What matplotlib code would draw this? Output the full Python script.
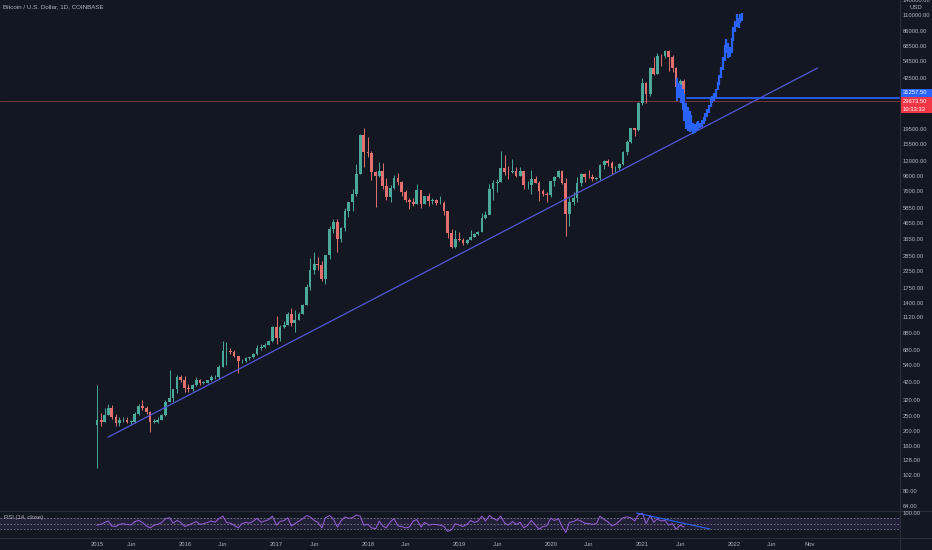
import matplotlib
matplotlib.use('Agg')
import matplotlib.pyplot as plt
from matplotlib import font_manager
from matplotlib.patches import Rectangle
from matplotlib.lines import Line2D
from matplotlib.ticker import FixedLocator, NullLocator
import pandas as pd

# BTCUSD (Coinbase) at half-month steps
first_open = 220
closes = [
    235, 230, 255, 285, 245, 225, 235, 237, 230, 230, 260, 290, 285, 265, 230, 230, 236, 255, 310, 330, 375, 455, 430,
    385, 375, 400, 435, 415, 415, 430, 450, 455, 530, 670, 675, 665, 625, 575, 575, 605, 610, 640, 700, 710, 740, 780, 960,
    820, 970, 1000, 1180, 1030, 1080, 1180, 1350, 1760, 2300, 2500, 2480, 2000, 2870, 4300, 4750, 3700, 4350, 5650, 6450, 7300, 9900, 17700, 13800,
    13600, 10200, 9500, 10300, 8250, 6900, 8000, 9250, 8700, 7500, 6600, 6400, 6250, 7750, 6250, 7000, 6500, 6620, 6300, 6350, 5600, 4000, 3250, 3700,
    3600, 3450, 3600, 3800, 3950, 4100, 5050, 5300, 7800, 8550, 8700, 10800, 10200, 10100, 10300, 9600, 10300, 8300, 8300, 9150, 8600, 7550, 7250, 7200,
    8800, 9350, 10350, 8550, 5350, 6400, 6850, 8650, 9800, 9450, 9350, 9150, 9200, 11350, 11900, 11650, 10800, 10800, 11500, 13800, 16000, 19700, 19200, 29000,
    39000, 33100, 48800, 45100, 59000, 58800, 63500, 57700, 49000, 36700, 40200, 29673.5,
]
highs = [
    400, 262, 285, 300, 296, 260, 245, 245, 245, 235, 265, 300, 320, 290, 270, 240, 245, 260, 320, 500, 380, 470, 465,
    460, 410, 410, 450, 440, 425, 435, 465, 465, 540, 780, 770, 705, 680, 625, 595, 615, 615, 650, 740, 750, 755, 790, 975,
    1150, 990, 1060, 1210, 1290, 1250, 1220, 1360, 1860, 2750, 3000, 2800, 2650, 2900, 4480, 4980, 4980, 4400, 5850, 6470, 7900, 11400, 18000, 19900,
    17250, 14000, 10300, 11800, 11700, 9200, 8300, 9750, 9950, 8800, 7750, 6800, 6800, 8500, 7750, 7100, 7420, 6800, 6700, 7000, 6550, 5650, 4300, 4200,
    4100, 3750, 3650, 4200, 4000, 4150, 5450, 5650, 8400, 8950, 9100, 13900, 13100, 11100, 12350, 10950, 10950, 10300, 8800, 10500, 9500, 8800, 7800, 7500,
    8900, 9600, 10500, 10500, 9200, 6900, 7450, 9450, 10000, 9950, 10400, 9800, 9450, 11450, 12100, 12450, 12050, 11100, 11700, 14000, 16500, 19900, 19900, 29300,
    42000, 39500, 49700, 58400, 61800, 61000, 64900, 64500, 59600, 50000, 41300, 41300,
]
lows = [
    114, 215, 230, 255, 240, 215, 215, 230, 225, 220, 225, 255, 275, 260, 198, 225, 225, 235, 250, 310, 310, 355, 420,
    360, 360, 365, 395, 400, 405, 415, 425, 440, 440, 530, 545, 640, 615, 480, 560, 570, 590, 605, 635, 680, 705, 740, 775,
    750, 780, 945, 1000, 980, 890, 1080, 1170, 1340, 1700, 2150, 2300, 1950, 1850, 2700, 4000, 3000, 3500, 4150, 5150, 5600, 7100, 9800, 11000,
    12800, 9000, 6000, 9400, 7850, 6600, 6420, 7800, 8300, 7050, 6450, 5780, 6100, 6250, 5880, 6250, 6100, 6200, 6150, 6250, 5300, 3750, 3200, 3200,
    3550, 3350, 3380, 3600, 3780, 3900, 4100, 4950, 5350, 6600, 7450, 8700, 9700, 9100, 9950, 9400, 9600, 7800, 7850, 7300, 8600, 6550, 7050, 6450,
    6900, 8250, 9200, 8450, 3850, 4450, 6150, 6450, 8150, 8700, 9200, 8900, 9000, 9050, 10700, 11150, 9900, 10150, 10400, 11200, 13200, 15800, 17600, 19000,
    28000, 28800, 32300, 44500, 45000, 51000, 57000, 47000, 46000, 30000, 31000, 28800,
]
rsi = [
    45, 48, 55, 60, 42, 40, 48, 50, 47, 46, 58, 62, 55, 42, 35, 45, 48, 55, 68, 72, 52, 62, 55,
    40, 45, 52, 58, 48, 50, 55, 60, 56, 68, 78, 55, 52, 45, 35, 50, 55, 52, 60, 70, 55, 60, 65, 78,
    45, 58, 62, 72, 42, 50, 60, 68, 80, 75, 62, 55, 35, 72, 80, 68, 38, 60, 75, 70, 72, 82, 78, 45,
    48, 35, 32, 60, 42, 35, 58, 68, 42, 40, 35, 38, 60, 65, 38, 55, 45, 48, 47, 45, 40, 22, 28, 50,
    45, 40, 48, 62, 55, 58, 78, 60, 80, 70, 62, 78, 52, 45, 58, 48, 55, 35, 45, 62, 45, 30, 40, 42,
    70, 62, 68, 40, 18, 55, 58, 65, 60, 52, 50, 48, 50, 78, 65, 58, 42, 48, 60, 72, 75, 72, 60, 82,
    88, 50, 80, 55, 68, 60, 62, 45, 50, 30, 45, 38,
]

# projected path (bars pattern), weekly high / low
proj_high = [42000, 39000, 38000, 36000, 33000, 29000, 27000, 25500, 24000, 21500,
             21000, 21800, 22000, 21500, 22500, 23500, 25000, 26500, 28000, 31000,
             32000, 33500, 36000, 40000, 44000, 50000, 58000, 70000, 76000, 72000,
             68000, 78000, 92000, 100000, 112000, 105000, 112000, 113000]
proj_low = [30000, 31000, 29000, 26000, 22000, 19500, 19000, 18500, 19000, 18000,
            18300, 18800, 19500, 19800, 20000, 21000, 22000, 23500, 25000, 27000,
            29000, 30000, 31500, 35000, 38000, 42000, 48000, 55000, 62000, 57000,
            58000, 62000, 74000, 85000, 92000, 90000, 98000, 100000]

# drawings
trend_dates = ['2015-03-01', '2022-12-01']
trend_prices = [182, 49140]
rsi_trend_dates = ['2020-12-09', '2021-09-27']
rsi_trend_vals = [89, 31]
level_price = 31257.5
last_price = 29673.5

price_ticks = [64, 80, 102, 128, 160, 200, 250, 320, 420, 540, 680, 880, 1120, 1400, 1750,
               2250, 2850, 3650, 4650, 5850, 7600, 9600, 12000, 15500, 19500,
               42500, 54500, 68500, 86000, 110000]
time_ticks = ['2015-01-15', '2015-06-01', '2016-01-01', '2016-06-01', '2017-01-01', '2017-06-01',
              '2018-01-01', '2018-06-01', '2019-01-01', '2019-06-01', '2020-01-01', '2020-06-01',
              '2021-01-01', '2021-06-01', '2022-01-01', '2022-06-01', '2022-11-01']
time_labels = ['2015', 'Jun', '2016', 'Jun', '2017', 'Jun', '2018', 'Jun', '2019', 'Jun',
               '2020', 'Jun', '2021', 'Jun', '2022', 'Jun', 'Nov']

BG = '#131722'
TXT = '#b2b5be'
LINE = '#2a2e39'
UP = '#4aa99b'
DOWN = '#e2706f'
FS = 4.2

plt.rcParams['font.family'] = ['Liberation Sans', 'DejaVu Sans']

W, H = 932, 550
fig = plt.figure(figsize=(W / 100, H / 100), dpi=100, facecolor=BG)


def fx(px):
    return px / W


def fy(py):
    return 1 - py / H


ax = fig.add_axes([0, fy(510), fx(900), 510 / H], facecolor=BG)
ax2 = fig.add_axes([0, fy(537.5), fx(900), 27.5 / H], facecolor=BG, sharex=ax)

dates = pd.date_range('2015-01-15', periods=len(closes), freq='SMS')
opens = [first_open] + closes[:-1]
cols = [UP if c >= o else DOWN for o, c in zip(opens, closes)]
bottoms = [min(o, c) for o, c in zip(opens, closes)]
heights = [max(abs(c - o), 0.004 * c) for o, c in zip(opens, closes)]

ax.set_yscale('log')
ax.vlines(dates, lows, highs, colors=cols, lw=0.7, zorder=3)
ax.bar(dates, heights, bottom=bottoms, width=11, color=cols, lw=0, zorder=3)

# trend line and price lines
ax.plot(pd.to_datetime(trend_dates), trend_prices, color='#5357d6', lw=0.9, zorder=4)
ax.axhline(last_price, color='#b0404a', lw=0.6, alpha=0.8, zorder=2)
ax.plot(pd.to_datetime(['2021-06-26', '2023-12-31']), [level_price, level_price],
        color='#2962ff', lw=1.2, zorder=4)

pdates = pd.date_range('2021-05-20', periods=len(proj_high), freq='7D')
ax.vlines(pdates, proj_low, proj_high, colors='#2962ff', lw=1.6, zorder=5)

ax.set_xlim(pd.Timestamp('2013-12-24'), pd.Timestamp('2023-10-26'))
ax.set_ylim(60.2, 137880)
ax.yaxis.tick_right()
ax.yaxis.set_major_locator(FixedLocator(price_ticks))
ax.yaxis.set_minor_locator(NullLocator())
ax.set_yticklabels(['%.2f' % v for v in price_ticks])
ax.tick_params(axis='y', length=0, pad=2, labelsize=FS, labelcolor=TXT)
ax.tick_params(axis='x', length=0, labelbottom=False)
for s in ax.spines.values():
    s.set_visible(False)

# RSI pane
ax2.axhspan(30, 70, color='#7e57c2', alpha=0.14, lw=0)
for lvl in (70, 50, 30):
    ax2.axhline(lvl, color='#9598a1', lw=0.6, ls=(0, (2, 2)), alpha=0.8)
ax2.plot(dates, rsi, color='#9c5fe0', lw=0.7)
ax2.plot(pd.to_datetime(rsi_trend_dates), rsi_trend_vals, color='#2962ff', lw=0.8)
ax2.set_ylim(0, 100)
ax2.set_yticks([])
ax2.set_xticks(pd.to_datetime(time_ticks))
ax2.set_xticklabels(time_labels)
ax2.xaxis.set_minor_locator(NullLocator())
ax2.tick_params(axis='x', length=0, pad=3, labelsize=FS, labelcolor=TXT)
for s in ax2.spines.values():
    s.set_visible(False)
ax2.text(0.004, 0.72, 'RSI (14, close)', transform=ax2.transAxes, fontsize=FS,
         color=TXT, va='center', ha='left')

# separators
fig.add_artist(Line2D([fx(900), fx(900)], [0, 1], color=LINE, lw=0.8))
fig.add_artist(Line2D([0, 1], [fy(510.5), fy(510.5)], color=LINE, lw=0.8))
fig.add_artist(Line2D([0, 1], [fy(537.5), fy(537.5)], color=LINE, lw=0.8))

# header texts
fig.text(fx(3), fy(7), 'Bitcoin / U.S. Dollar, 1D, COINBASE', fontsize=FS + 0.3, color=TXT, va='center')
fig.text(fx(903), fy(1), '140000.00', fontsize=FS, color=TXT, va='center')
fig.text(fx(916), fy(7.5), 'USD', fontsize=FS, color=TXT, va='center', ha='center')
fig.text(fx(903), fy(513.5), '100.00', fontsize=FS, color=TXT, va='center')

# price labels on scale
fig.add_artist(Rectangle((fx(900), fy(97)), fx(32), 8 / H, color='#2962ff', lw=0))
fig.text(fx(903), fy(93), '31257.50', fontsize=FS, color='white', va='center')
fig.add_artist(Rectangle((fx(900), fy(113)), fx(32), 16 / H, color='#f23645', lw=0))
fig.text(fx(903), fy(101.5), '29673.50', fontsize=FS, color='white', va='center')
fig.text(fx(903), fy(109), '10:33:33', fontsize=FS, color='white', va='center')

fig.savefig('out.png', dpi=100, facecolor=BG)
